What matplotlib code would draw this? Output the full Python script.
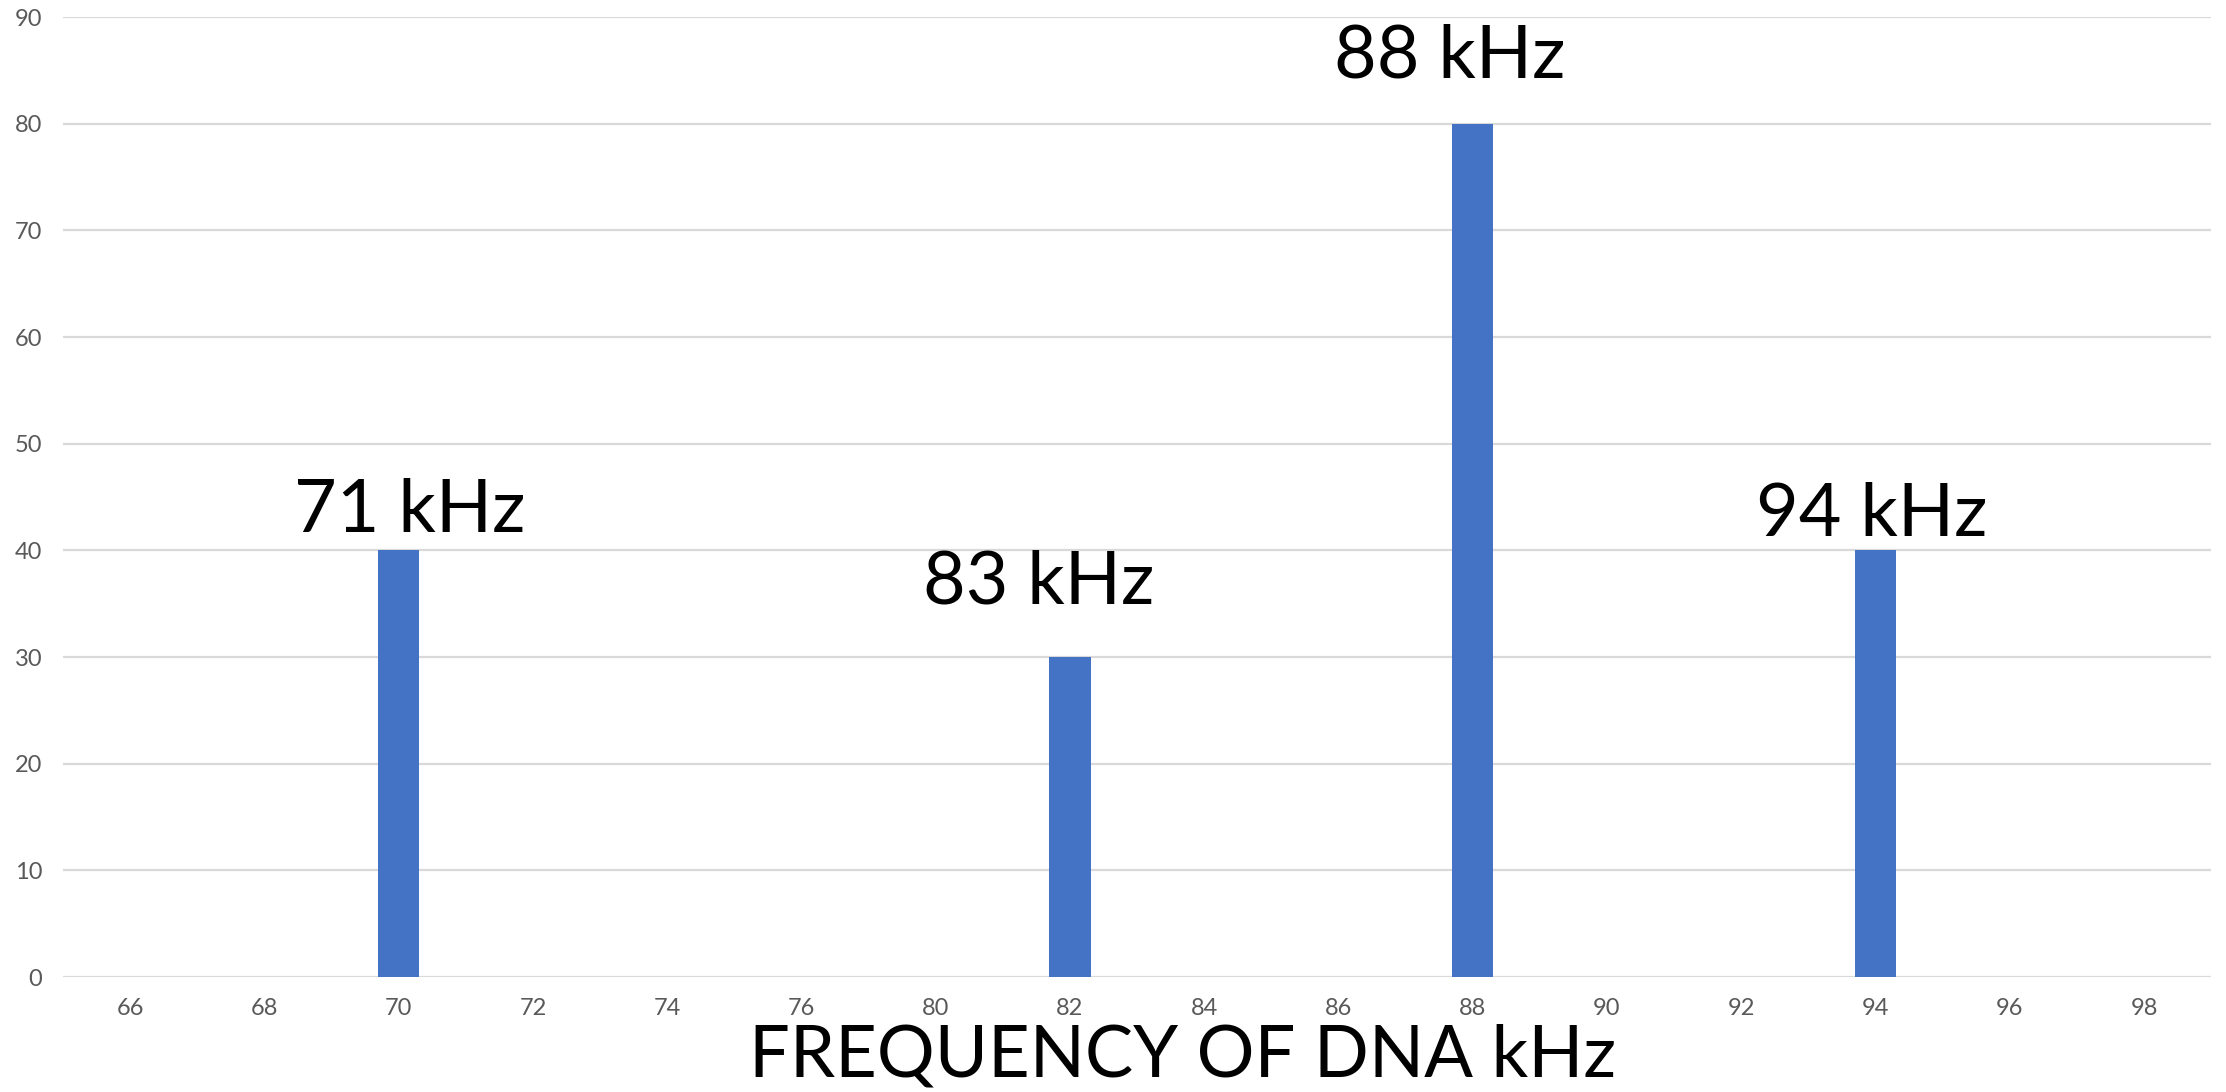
import matplotlib
matplotlib.use("Agg")
import matplotlib.pyplot as plt

plt.rcParams['font.family'] = ['Lato', 'DejaVu Sans']

categories = ['66', '68', '70', '72', '74', '76', '80', '82', '84', '86', '88', '90', '92', '94', '96', '98']
values = [0, 0, 40, 0, 0, 0, 0, 30, 0, 0, 80, 0, 0, 40, 0, 0]

label_texts = ['71 kHz', '83 kHz', '88 kHz', '94 kHz']
label_x = [2.08, 6.77, 9.83, 12.97]
label_y = [41.7, 35.0, 84.3, 41.3]

fig = plt.figure(figsize=(22.26, 10.92), dpi=100)
ax = fig.add_axes([0.0283, 0.1053, 0.9650, 0.8791])

x = list(range(len(categories)))
ax.bar(x, values, width=0.31, color='#4472C4', zorder=3)

ax.set_xlim(-0.5, len(categories) - 0.5)
ax.set_ylim(0, 90)
ax.set_yticks(range(0, 91, 10))
ax.set_xticks(x)
ax.set_xticklabels(categories)

ax.grid(axis='y', color='#d9d9d9', linewidth=1.6, zorder=0)
for s in ax.spines.values():
    s.set_visible(False)
ax.tick_params(axis='both', length=0, labelsize=17, colors='#595959', pad=15)

for t, xx, yy in zip(label_texts, label_x, label_y):
    ax.text(xx, yy, t, ha='center', va='baseline', fontsize=53, color='black', zorder=4)

ax.set_xlabel('FREQUENCY OF DNA kHz', fontsize=52, color='black')
ax.xaxis.set_label_coords(0.521, -0.048)
ax.xaxis.label.set_verticalalignment('top')

fig.savefig('out.png', dpi=100)
